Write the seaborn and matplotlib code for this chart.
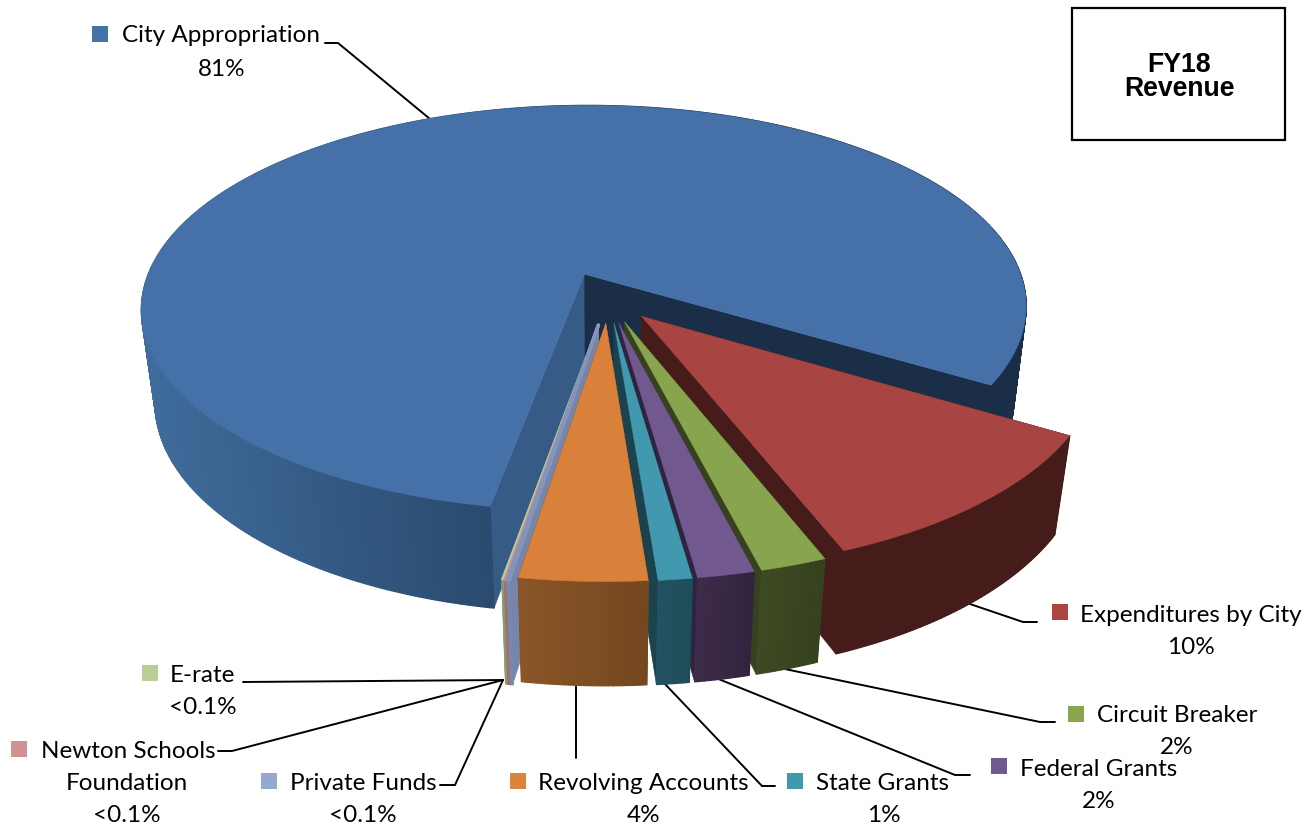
import numpy as np
import pandas as pd
import matplotlib
matplotlib.use("Agg")
import matplotlib.pyplot as plt
from matplotlib.collections import PolyCollection
from matplotlib.colors import to_rgb
import seaborn as sns

# Revenue shares, in percent
categories = ["City Appropriation", "Expenditures by City", "Circuit Breaker", "Federal Grants",
              "State Grants", "Revolving Accounts", "Private Funds", "Newton Schools Foundation", "E-rate"]
shares = [81.12, 10.49, 2.0, 1.7, 1.0, 3.8, 0.07, 0.07, 0.07]
share_labels = ["81%", "10%", "2%", "2%", "1%", "4%", "<0.1%", "<0.1%", "<0.1%"]

# Slice colours: key/top face, outer wall (left and right ends), cut wall
top_colors = ["#4571A8", "#A84442", "#89A44E", "#71588F", "#4198AF", "#D9813B", "#8494BA", "#CF9291", "#B9CD96"]
key_colors = ["#4572A7", "#AA4643", "#89A54E", "#71588F", "#4198AF", "#DB843D", "#93A9CF", "#D19392", "#B9CD96"]
wall_left = ["#3F6C9C", "#451C1A", "#3E4A22", "#3C2C4A", "#225260", "#8A5528", "#7C8CB0", "#A07070", "#8A9A70"]
wall_right = ["#1A2E47", "#451C1A", "#36421E", "#32243F", "#1F4E5B", "#74471F", "#7686AA", "#A07070", "#8A9A70"]
cut_colors = ["#1A2E47", "#451C1A", "#36421E", "#2F2440", "#1B434D", "#74471F", "#7686AA", "#A07070", "#8A9A70"]
city_left_cut = "#375B87"

# Projection of the tilted pie
CENTER_X, CENTER_Y = 608, 298
SCALE_X, SCALE_Y = 445, 205
TILT = 0.17
DEPTH = 96
DEPTH_SHRINK = 0.03
explode = [0.13, 0.115, 0.12, 0.12, 0.12, 0.12, 0.13, 0.13, 0.13]
START_ANGLE = 99.9

sns.set_theme(style="white")
fig = plt.figure(figsize=(13.16, 8.25), dpi=100, facecolor="white")
ax = fig.add_axes([0, 0, 1, 1])
ax.set_xlim(0, 1316)
ax.set_ylim(825, 0)
ax.axis("off")


def project(u, v, z=0.0):
    w = 1 - TILT * v + DEPTH_SHRINK * z
    return CENTER_X + SCALE_X * u / w, CENTER_Y + (SCALE_Y * v + DEPTH * z) / w


def blend(a, b, t):
    a, b = np.array(to_rgb(a)), np.array(to_rgb(b))
    return tuple(a + (b - a) * t)


def draw_slice(i, theta0, theta1, layer, stroke=0.0):
    mid = np.radians((theta0 + theta1) / 2)
    ou, ov = explode[i] * np.cos(mid), explode[i] * np.sin(mid)
    th = np.radians(np.linspace(theta0, theta1, max(int(abs(theta1 - theta0) * 2), 2)))
    ru, rv = ou + np.cos(th), ov + np.sin(th)
    tx, ty = project(ru, rv, 0)
    bx, by = project(ru, rv, 1)
    ax0, ay0 = project(ou, ov, 0)
    ax1, ay1 = project(ou, ov, 1)

    # Cut faces run from the apex out to both ends of the rim
    first_cut = city_left_cut if i == 0 else cut_colors[i]
    for k, col in ((0, first_cut), (-1, cut_colors[i])):
        poly = [(ax0, ay0), (tx[k], ty[k]), (bx[k], by[k]), (ax1, ay1)]
        ax.fill(*zip(*poly), color=col, lw=0.4, zorder=layer)

    # Outer wall: thin quads that carry the left-to-right gradient
    lo, hi = min(tx.min(), tx.max()), max(tx.min(), tx.max())
    quads, cols = [], []
    for j in range(len(th) - 1):
        quads.append([(tx[j], ty[j]), (tx[j + 1], ty[j + 1]), (bx[j + 1], by[j + 1]), (bx[j], by[j])])
        xm = (tx[j] + tx[j + 1]) / 2
        if i == 0:
            t = (xm - 142) / (490 - 142)
            c = blend(wall_left[0], "#2A4A6E", t) if t <= 1 else blend("#2A4A6E", wall_right[0], min((t - 1) / 0.6, 1))
        else:
            c = blend(wall_left[i], wall_right[i], (xm - lo) / max(hi - lo, 1))
        cols.append(c)
    ax.add_collection(PolyCollection(quads, facecolors=cols, edgecolors=cols, linewidths=0.9, zorder=layer))

    # Top face goes on last
    ax.fill(np.r_[ax0, tx], np.r_[ay0, ty], facecolor=top_colors[i], edgecolor=top_colors[i],
            lw=0.3 + stroke, joinstyle="round", zorder=layer + 0.5)


# Slices run clockwise from the left edge of the largest one
total = sum(shares)
spans = [s / total * 360 for s in shares]
edges = START_ANGLE + np.r_[0, np.cumsum(spans)]

order = [0, 1, 2, 3, 4, 8, 7, 6, 5]
strokes = {6: 2.2, 7: 1.0, 8: 0.4}
for layer, i in enumerate(order):
    draw_slice(i, edges[i], edges[i + 1], 2 + layer, stroke=strokes.get(i, 0.0))

# Leader lines from the slices to their labels
leaders = [
    [(325, 43), (338, 43), (430, 119)],
    [(1037, 622), (1023, 622), (970, 604)],
    [(1055, 722), (1040, 722), (780, 668)],
    [(970, 775), (955, 775), (716, 678)],
    [(775, 786), (762, 786), (665, 684)],
    [(576, 758), (576, 686)],
    [(440, 785), (455, 785), (503, 680)],
    [(218, 751), (232, 751), (503, 680)],
    [(243, 682), (503, 680)],
]
for path in leaders:
    ax.plot(*zip(*path), color="black", lw=1.4, solid_joinstyle="round", zorder=1)

# Square colour keys
key_table = pd.DataFrame({
    "category": categories,
    "x": [100, 1060, 1076, 999, 795, 518, 269, 19, 150],
    "y": [34, 612, 714, 766, 781, 781, 781, 749, 673],
})
sns.scatterplot(data=key_table, x="x", y="y", hue="category", palette=key_colors, hue_order=categories,
                marker="s", s=125, linewidth=0, legend=False, ax=ax, zorder=20)
ax.set_xlim(0, 1316)
ax.set_ylim(825, 0)
ax.set_xlabel("")
ax.set_ylabel("")

# Labels: each line placed on its own centre
label_lines = [
    ("City Appropriation", 220.5, 36), (share_labels[0], 222, 69),
    ("Expenditures by City", 1191, 615), (share_labels[1], 1191, 648),
    ("Circuit Breaker", 1177, 716), (share_labels[2], 1177, 747),
    ("Federal Grants", 1099, 769), (share_labels[3], 1099, 802),
    ("State Grants", 883, 784), (share_labels[4], 884, 816),
    ("Revolving Accounts", 643.5, 784), (share_labels[5], 644, 816),
    ("Private Funds", 363.5, 784), (share_labels[6], 363, 816),
    ("Newton Schools", 128, 751), ("Foundation", 127, 784), (share_labels[7], 127, 816),
    ("E-rate", 202.5, 675), (share_labels[8], 203, 708),
]
for text, x, y in label_lines:
    ax.text(x, y, text, ha="center", va="center", family="Lato", fontsize=17.5, color="black", zorder=21)

# Title box
ax.fill([1072, 1285, 1285, 1072], [8, 8, 140, 140], facecolor="white", edgecolor="black", lw=1.6, zorder=20)
ax.text(1179, 65, "FY18", ha="center", va="center", family="Liberation Sans", weight="bold",
        fontsize=19.2, color="black", zorder=21)
ax.text(1179, 89, "Revenue", ha="center", va="center", family="Liberation Sans", weight="bold",
        fontsize=19.2, color="black", zorder=21)

fig.savefig("out.png", dpi=100, facecolor="white")
